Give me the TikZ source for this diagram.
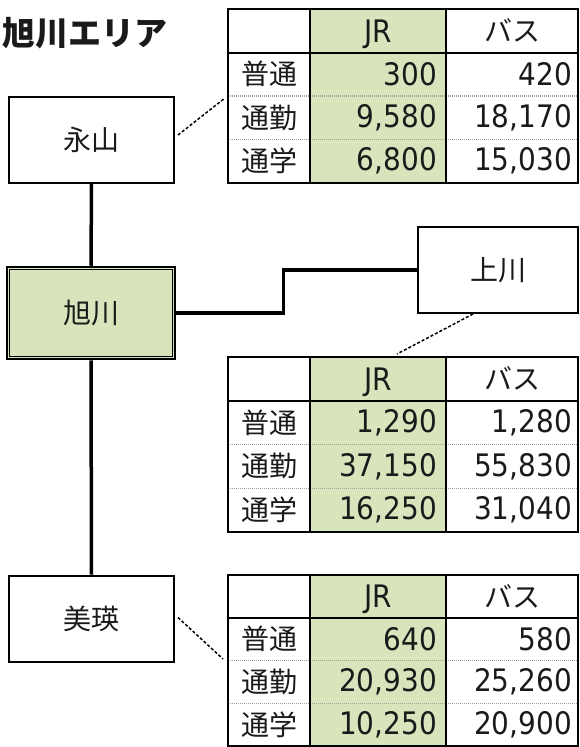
\documentclass[tikz,border=0pt]{standalone}
\usepackage{fontspec}
\setmainfont{Noto Sans CJK JP}
\newfontfamily\lat[FakeStretch=0.9]{DejaVu Sans}
\definecolor{grn}{HTML}{D8E4BC}
\definecolor{ink}{HTML}{1A1A1A}
\tikzset{
  box/.style={draw, line width=2, minimum width=165, minimum height=86, inner sep=0, text=ink, font=\fontsize{28}{32}\selectfont},
  conn/.style={line width=3.5},
  lead/.style={line width=1.5, dash pattern=on 3 off 2},
  lbl/.style={font=\fontsize{28}{32}\selectfont, inner sep=0, text=ink},
  hdr/.style={font=\lat\fontsize{31}{34}\selectfont, inner sep=0, text=ink, text depth=0pt},
  num/.style={font=\lat\fontsize{31}{34}\selectfont, anchor=east, inner sep=0, text=ink},
  rowsep/.style={gray!75, line width=1.3, dash pattern=on 1 off 1},
  tline/.style={line width=2},
}
\newcommand\mytable[9]{%
  \fill[grn] (310,#2) rectangle (446,{#2+4*#3});
  \foreach \k in {2,3} \draw[rowsep] (228,{#2+\k*#3}) -- (578,{#2+\k*#3});
  \draw[tline] (228,#2) rectangle (578,{#2+4*#3});
  \draw[tline] (228,{#2+#3}) -- (578,{#2+#3});
  \draw[tline] (310,#2) -- (310,{#2+4*#3}) (446,#2) -- (446,{#2+4*#3});
  \node[hdr] (#1hj) at (378,{#2+0.5*#3}) {JR};
  \node[lbl] (#1hb) at (512,{#2+0.5*#3}) {バス};
  \node[lbl] (#1l1) at (269,{#2+1.5*#3}) {普通};
  \node[lbl] (#1l2) at (269,{#2+2.5*#3}) {通勤};
  \node[lbl] (#1l3) at (269,{#2+3.5*#3}) {通学};
  \node[num] (#1j1) at (437,{#2+1.5*#3}) {#4};
  \node[num] (#1b1) at (572,{#2+1.5*#3}) {#5};
  \node[num] (#1j2) at (437,{#2+2.5*#3}) {#6};
  \node[num] (#1b2) at (572,{#2+2.5*#3}) {#7};
  \node[num] (#1j3) at (437,{#2+3.5*#3}) {#8};
  \node[num] (#1b3) at (572,{#2+3.5*#3}) {#9};
}
\begin{document}
\begin{tikzpicture}[x=1pt, y=-1pt]
\useasboundingbox (0,0) rectangle (580,747);

\node[font=\bfseries\fontsize{33}{36}\selectfont, inner sep=0, text=ink] (title) at (85,33) {旭川エリア};

% tables
\mytable{ta}{9}{43.5}{300}{420}{9,580}{18,170}{6,800}{15,030}
\mytable{tb}{357}{43.75}{1,290}{1,280}{37,150}{55,830}{16,250}{31,040}
\mytable{tc}{575}{42.75}{640}{580}{20,930}{25,260}{10,250}{20,900}

% stations
\node[box] (ny) at (91.5,140) {永山};
\node[box, fill=grn, minimum width=168, minimum height=92, line width=2.5] (ak) at (91,313) {旭川};
\draw[line width=1] ([shift={(4,4)}]ak.north west) rectangle ([shift={(-4,-4)}]ak.south east);
\node[box, minimum width=160] (kk) at (498,270) {上川};
\node[box] (by) at (91.5,618.5) {美瑛};

% connectors
\draw[conn] (ny.south) -- (ak.north);
\draw[conn] (ak.south) -- (by.north);
\draw[conn] (ak.east) -- ++(107,0) |- (kk.west);

% leaders to tables
\coordinate (la) at (225,98);
\coordinate (lb) at (397,354);
\coordinate (lc) at (223,659);
\draw[lead] ([shift={(3,-5)}]ny.east) -- (la);
\draw[lead] ([xshift=-25]kk.south) -- (lb);
\draw[lead] ([shift={(3,-1)}]by.east) -- (lc);
\end{tikzpicture}
\end{document}
